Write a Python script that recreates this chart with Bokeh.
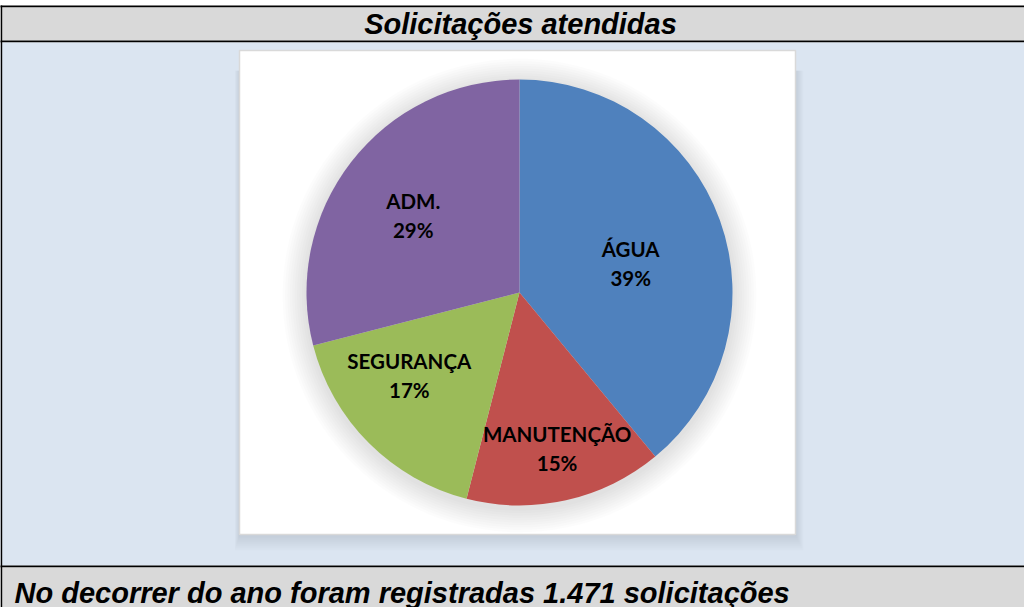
import numpy as np
from bokeh.plotting import figure
from bokeh.models import Range1d, ColumnDataSource
from bokeh.core.properties import value
from bokeh.embed import file_html
from bokeh.resources import INLINE

# ---- data ----
categories = ["ÁGUA", "MANUTENÇÃO", "SEGURANÇA", "ADM."]
percentages = [39, 15, 17, 29]
colors = ["#4f81bd", "#c0504d", "#9bbb59", "#8064a2"]
title_text = "Solicitações atendidas"
footer_text = "No decorrer do ano foram registradas 1.471 solicitações"

# ---- layout helpers (page pixel -> data units, 1 unit = 1 px) ----
W, H = 1024, 607
def X(xp):
    return xp - 8
def Y(yp):
    return 615 - yp

p = figure(width=W, height=H, x_range=Range1d(0, W), y_range=Range1d(0, H),
           output_backend="svg", toolbar_location=None, min_border=0)
p.axis.visible = False
p.grid.visible = False
p.outline_line_color = None
p.background_fill_color = "white"
p.border_fill_color = "white"

GRAY = "#d9d9d9"
BLUE_BG = "#dbe5f1"

# bands
p.quad(left=[X(5)], right=[W], top=[Y(13)], bottom=[Y(15)], fill_color="black", line_color=None)
p.quad(left=[X(5)], right=[W], top=[Y(15)], bottom=[Y(48)], fill_color=GRAY, line_color=None)
p.quad(left=[X(5)], right=[W], top=[Y(48)], bottom=[Y(50)], fill_color="black", line_color=None)
p.quad(left=[X(5)], right=[W], top=[Y(50)], bottom=[Y(573)], fill_color=BLUE_BG, line_color=None)
p.quad(left=[X(5)], right=[W], top=[Y(573)], bottom=[Y(575)], fill_color="black", line_color=None)
p.quad(left=[X(5)], right=[W], top=[Y(575)], bottom=[0], fill_color=GRAY, line_color=None)
p.quad(left=[0], right=[1.7], top=[Y(13)], bottom=[0], fill_color="black", line_color=None)

# chart area shadow + white area
cl, cr, ct, cb = X(247), X(803), Y(58), Y(542)
for k in range(1, 9):
    p.quad(left=[cl - k * 0.6], right=[cr + k * 1.0], top=[ct - 20], bottom=[cb - k * 2.0],
           fill_color="black", fill_alpha=0.012, line_color=None)
p.quad(left=[cl], right=[cr], top=[ct], bottom=[cb], fill_color="white",
       line_color=GRAY, line_width=1.5)

# pie
cx, cy, R = X(527), Y(300), 213
for k in range(1, 11):
    p.circle(x=[cx], y=[cy - 3], radius=R + k * 2.4, fill_color="black",
             fill_alpha=0.012, line_color=None)

vals = np.array(percentages, dtype=float)
fracs = vals / vals.sum()
cum = np.cumsum(fracs)
start = np.pi / 2 - 2 * np.pi * (cum - fracs)
end = np.pi / 2 - 2 * np.pi * cum
src = ColumnDataSource(dict(start=start, end=end, color=colors, cat=categories))
p.wedge(x=cx, y=cy, radius=R, start_angle="start", end_angle="end", direction="clock",
        fill_color="color", line_color=None, source=src)

# labels
label_dist = [115, 160, 138, 131]
label_tweak_deg = [5, -1, 8, -2]
mid = np.pi / 2 - 2 * np.pi * (cum - fracs / 2) - np.radians(label_tweak_deg)
lx = cx + np.array(label_dist) * np.cos(mid)
ly = cy + np.array(label_dist) * np.sin(mid)
pct_labels = [f"{int(v)}%" for v in percentages]
p.text(x=lx, y=ly + 14.5, text=categories, text_font=value("Lato"), text_font_style="bold",
       text_font_size="20.5px", text_align="center", text_baseline="middle", text_color="black")
p.text(x=lx, y=ly - 14.5, text=pct_labels, text_font=value("Lato"), text_font_style="bold",
       text_font_size="20.5px", text_align="center", text_baseline="middle", text_color="black")

# title / footer
p.text(x=[X(528)], y=[Y(31)], text=[title_text], text_font=value("Liberation Sans"),
       text_font_style="bold italic", text_font_size="29px", text_align="center",
       text_baseline="middle", text_color="black")
p.text(x=[X(22)], y=[Y(600)], text=[footer_text], text_font=value("Liberation Sans"),
       text_font_style="bold italic", text_font_size="29px", text_align="left",
       text_baseline="middle", text_color="black")

open("out.html", "w").write(file_html(p, INLINE))
